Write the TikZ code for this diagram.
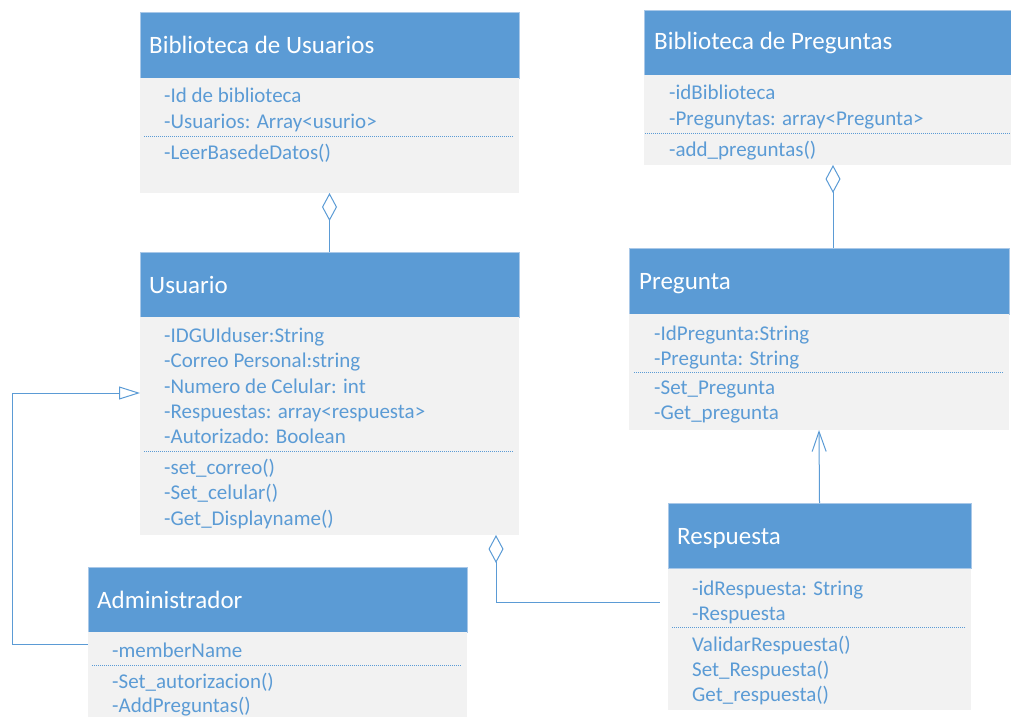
\documentclass[tikz,border=0pt]{standalone}
\usepackage{fontspec}
\setmainfont{Carlito}
\usetikzlibrary{arrows.meta,calc}
\definecolor{umlblue}{HTML}{5B9BD5}
\definecolor{umlbody}{HTML}{F2F2F2}
\definecolor{umledge}{HTML}{A9C8E8}

\tikzset{
  hdr/.style={fill=umlblue, draw=umledge, line width=0.6pt, inner sep=0pt, outer sep=0pt, anchor=north west},
  bodybox/.style={fill=umlbody, inner sep=0pt, outer sep=0pt, anchor=north west},
  title/.style={text=white, font=\fontsize{25}{30}\selectfont, anchor=base west, inner sep=0pt},
  member/.style={text=umlblue, font=\fontsize{21}{25}\selectfont, anchor=base west, inner sep=0pt},
  sepline/.style={draw=umlblue, line width=0.8pt, dash pattern=on 1pt off 1pt},
  link/.style={draw=umlblue, line width=1pt},
  agg/.style={link, {Diamond[open, length=28pt, width=15pt, line width=1pt]}-},
  gen/.style={link, -{Triangle[open, length=21pt, width=13pt, line width=1pt]}},
  nav/.style={link, -{Straight Barb[length=20pt, width=14pt, line width=1pt]}},
}

\begin{document}
\begin{tikzpicture}[x=1pt, y=-1pt]
\useasboundingbox (0,0) rectangle (1011,717);

% ---------- Biblioteca de Usuarios ----------
\node[hdr, minimum width=379, minimum height=66] (buh) at (140,12) {};
\node[bodybox, minimum width=379, minimum height=115] (bub) at (140,78) {};
\node[title] (but) at (149,53) {Biblioteca de Usuarios};
\node[member] (bu1) at (164,102) {-Id de biblioteca};
\node[member] (bu2) at (164,128) {-Usuarios: Array<usurio>};
\draw[sepline] ($(bub.north west)+(4,58)$) -- ($(bub.north east)+(-5,58)$);
\node[member] (bu3) at (164,159) {-LeerBasedeDatos()};

% ---------- Usuario ----------
\node[hdr, minimum width=379, minimum height=65] (uh) at (140,252) {};
\node[bodybox, minimum width=379, minimum height=218] (ub) at (140,317) {};
\node[title] (ut) at (149,293) {Usuario};
\node[member] (u1) at (164,342) {-IDGUIduser:String};
\node[member] (u2) at (164,367.5) {-Correo Personal:string};
\node[member] (u3) at (164,393) {-Numero de Celular: int};
\node[member] (u4) at (164,418.5) {-Respuestas: array<respuesta>};
\node[member] (u5) at (164,443.5) {-Autorizado: Boolean};
\draw[sepline] ($(ub.north west)+(4,134)$) -- ($(ub.north east)+(-5,134)$);
\node[member] (u6) at (164,474) {-set\_correo()};
\node[member] (u7) at (164,499.5) {-Set\_celular()};
\node[member] (u8) at (164,525) {-Get\_Displayname()};

% ---------- Biblioteca de Preguntas ----------
\node[hdr, minimum width=367, minimum height=65] (bph) at (644,10) {};
\node[bodybox, minimum width=367, minimum height=90] (bpb) at (644,75) {};
\node[title] (bpt) at (654,50) {Biblioteca de Preguntas};
\node[member] (bp1) at (669,99.5) {-idBiblioteca};
\node[member] (bp2) at (669,125) {-Pregunytas: array<Pregunta>};
\draw[sepline] ($(bpb.north west)+(1,58)$) -- ($(bpb.north east)+(0,58)$);
\node[member] (bp3) at (669,156) {-add\_preguntas()};

% ---------- Pregunta ----------
\node[hdr, minimum width=380, minimum height=66] (ph) at (629,248) {};
\node[bodybox, minimum width=380, minimum height=116] (pb) at (629,314) {};
\node[title] (pt) at (639,289.5) {Pregunta};
\node[member] (p1) at (654,340) {-IdPregunta:String};
\node[member] (p2) at (654,365) {-Pregunta: String};
\draw[sepline] ($(pb.north west)+(5,58)$) -- ($(pb.north east)+(-6,58)$);
\node[member] (p3) at (654,394.5) {-Set\_Pregunta};
\node[member] (p4) at (654,419.5) {-Get\_pregunta};

% ---------- Respuesta ----------
\node[hdr, minimum width=303, minimum height=65.5] (rh) at (668,503) {};
\node[bodybox, minimum width=303, minimum height=141.5] (rb) at (668,568.5) {};
\node[title] (rt) at (677,544.5) {Respuesta};
\node[member] (r1) at (692,595) {-idRespuesta: String};
\node[member] (r2) at (692,620) {-Respuesta};
\draw[sepline] ($(rb.north west)+(4,58.5)$) -- ($(rb.north east)+(-5,58.5)$);
\node[member] (r3) at (692,651) {ValidarRespuesta()};
\node[member] (r4) at (692,676) {Set\_Respuesta()};
\node[member] (r5) at (692,701.5) {Get\_respuesta()};

% ---------- Administrador ----------
\node[hdr, minimum width=379, minimum height=65] (ah) at (88,567) {};
\node[bodybox, minimum width=379, minimum height=85] (ab) at (88,632) {};
\node[title] (at) at (97,608) {Administrador};
\node[member] (a1) at (112,657.5) {-memberName};
\draw[sepline] ($(ab.north west)+(4,33)$) -- ($(ab.north east)+(-5,33)$);
\node[member] (a2) at (112,688) {-Set\_autorizacion()};
\node[member] (a3) at (112,712) {-AddPreguntas()};

% ---------- Connectors ----------
% aggregation: library of users holds users
\draw[agg] (bub.south) -- (uh.north);
% aggregation: library of questions holds questions
\draw[agg] ([xshift=5.5pt]bpb.south) -- ([xshift=5.5pt]bpb.south |- ph.north);
% navigable association: answer to question
\draw[nav] (rh.north) -- (pb.south);
% aggregation: user holds answers
\draw[agg] ([xshift=166.5pt]ub.south) |- ([xshift=-8pt,yshift=37.25pt]rb.west);
% generalization: administrator is a user
\draw[gen] ([yshift=30.5pt]ab.west) -- ++(-76,0) |- ([yshift=33pt]ub.west);
\end{tikzpicture}
\end{document}
